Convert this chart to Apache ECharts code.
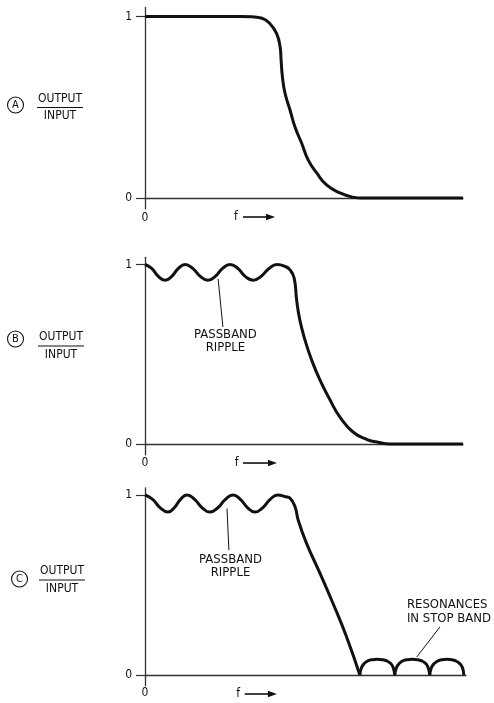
<!DOCTYPE html>
<html><head><meta charset="utf-8">
<script src="https://cdn.jsdelivr.net/npm/echarts@6/dist/echarts.min.js"></script>
<style>html,body{margin:0;padding:0;background:#fff}#c{width:494px;height:703px}</style>
</head><body><div id="c"></div>
<script>
// ---- Panel A : smooth low-pass response ----
const aX = [0, 1.73, 2.99, 3.36, 3.68, 3.93, 4.14, 4.25, 4.28, 4.32, 4.40, 4.56, 4.72, 4.93, 5.13, 5.40, 5.71, 6.13, 6.54, 6.82, 10];
const aY = [1, 1, 1, 0.998, 0.99, 0.96, 0.906, 0.83, 0.76, 0.67, 0.58, 0.485, 0.39, 0.30, 0.21, 0.138, 0.072, 0.028, 0.005, 0, 0];
// ---- Panel B : passband ripple ----
const bX = [0, 0.21, 0.42, 0.63, 0.84, 1.05, 1.26, 1.50, 1.74, 1.98, 2.21, 2.44, 2.67, 2.92, 3.15, 3.40, 3.65, 3.90, 4.15,
            4.40, 4.56, 4.69, 4.77, 4.87, 5.03, 5.24, 5.50, 5.82, 6.13, 6.54, 6.98, 7.30, 7.70, 10];
const bY = [1, 0.978, 0.934, 0.912, 0.934, 0.978, 1, 0.978, 0.934, 0.912, 0.934, 0.978, 1, 0.978, 0.934, 0.912, 0.934, 0.978, 1,
            0.99, 0.97, 0.925, 0.80, 0.69, 0.58, 0.468, 0.357, 0.245, 0.15, 0.067, 0.025, 0.011, 0, 0];
// ---- Panel C : ripple + stop-band resonances ----
const cX = [0, 0.24, 0.48, 0.72, 0.92, 1.12, 1.32, 1.56, 1.80, 2.04, 2.29, 2.53, 2.77, 3.00, 3.23, 3.46, 3.70, 3.94, 4.18,
            4.43, 4.56, 4.72, 4.82, 5.08, 5.50, 5.91, 6.34, 6.76];
const cY = [1, 0.976, 0.929, 0.905, 0.929, 0.976, 1, 0.976, 0.929, 0.905, 0.929, 0.976, 1, 0.976, 0.929, 0.905, 0.929, 0.976, 1,
            0.99, 0.983, 0.935, 0.861, 0.733, 0.567, 0.40, 0.213, 0];
const arc1X = [6.76, 6.81, 6.89, 7.01, 7.15, 7.31, 7.47, 7.61, 7.74, 7.81, 7.86];
const arc2X = [7.86, 7.91, 7.99, 8.11, 8.25, 8.41, 8.57, 8.71, 8.84, 8.91, 8.96];
const arc3X = [8.96, 9.01, 9.09, 9.21, 9.34, 9.50, 9.65, 9.78, 9.91, 9.99, 10.03];
const arcY  = [0, 0.04, 0.062, 0.078, 0.085, 0.087, 0.085, 0.078, 0.062, 0.04, 0];

const yTickValues = [0, 1];
const yTickLabels = ['0', '1'];
const xTickValues = [0];
const xTickLabels = ['0'];
const panelLetters = ['A', 'B', 'C'];

const FONT = "'DejaVu Sans Condensed', 'Liberation Sans Narrow', 'DejaVu Sans', sans-serif";
const INK = '#111';
const AX = '#333';

function zip(xs, ys) { return xs.map((x, i) => [x, ys[i]]); }

const grids = [
  { left: 145, width: 318, top: 7.4, height: 201.5 },
  { left: 145, width: 318, top: 257.3, height: 197.5 },
  { left: 145, width: 321, top: 487.8, height: 198 }
];
const yRanges = [[-0.06, 1.05], [-0.06, 1.04], [-0.06, 1.04]];
const xMax = [10, 10, 10.1];
const xLabelMargin = [3, 2, 1];

const xAxes = grids.map((gr, i) => ({
  gridIndex: i, type: 'value', min: 0, max: xMax[i],
  axisLine: { show: true, onZero: true, lineStyle: { color: AX, width: 1.3 } },
  axisTick: { show: false },
  splitLine: { show: false },
  axisLabel: { customValues: xTickValues, formatter: v => xTickLabels[xTickValues.indexOf(v)] ?? '', margin: xLabelMargin[i], color: INK, fontSize: 12, fontFamily: FONT }
}));
const yAxes = grids.map((gr, i) => ({
  gridIndex: i, type: 'value', min: yRanges[i][0], max: yRanges[i][1],
  axisLine: { show: true, onZero: false, lineStyle: { color: AX, width: 1.3 } },
  axisTick: { show: true, customValues: yTickValues, length: 9, lineStyle: { color: AX, width: 1.2 } },
  splitLine: { show: false },
  axisLabel: { customValues: yTickValues, formatter: v => yTickLabels[yTickValues.indexOf(v)] ?? '', margin: 13, color: INK, fontSize: 12, fontFamily: FONT }
}));

function curve(data, gi) {
  return {
    type: 'line', xAxisIndex: gi, yAxisIndex: gi, data: data,
    showSymbol: false, smooth: 0.5,
    lineStyle: { color: INK, width: 3 }, clip: false, silent: true
  };
}

const chart = echarts.init(document.getElementById('c'), null, { renderer: 'canvas' });
chart.setOption({
  animation: false,
  backgroundColor: '#fff',
  grid: grids,
  xAxis: xAxes,
  yAxis: yAxes,
  series: [
    curve(zip(aX, aY), 0),
    curve(zip(bX, bY), 1),
    curve(zip(cX, cY), 2),
    curve(zip(arc1X, arcY), 2),
    curve(zip(arc2X, arcY), 2),
    curve(zip(arc3X, arcY), 2)
  ]
});

// ---- annotations (positions derived from data coordinates) ----
const P = (gi, x, y) => chart.convertToPixel({ gridIndex: gi }, [x, y]);
const g = [];
function txt(x, y, t, opt) {
  g.push({ type: 'text', x: x, y: y, silent: true, style: Object.assign({ text: t, fill: INK, font: '13px ' + FONT, align: 'center', verticalAlign: 'middle' }, opt || {}) });
}
function ln(p1, p2, w) {
  g.push({ type: 'line', silent: true, shape: { x1: p1[0], y1: p1[1], x2: p2[0], y2: p2[1] }, style: { stroke: INK, lineWidth: w || 1 } });
}
// f --> arrows
const fPos = [[2.86, 3.08, 4.09], [2.88, 3.08, 4.15], [2.93, 3.14, 4.15]];
fPos.forEach((f, gi) => {
  const pf = P(gi, f[0], 0), pa = P(gi, f[1], 0), pb = P(gi, f[2], 0);
  const yy = pf[1] + 19;
  txt(pf[0], yy, 'f', { font: '12px ' + FONT });
  ln([pa[0], yy], [pb[0] - 6, yy], 1.6);
  g.push({ type: 'polygon', silent: true, shape: { points: [[pb[0], yy], [pb[0] - 9, yy - 3.2], [pb[0] - 9, yy + 3.2]] }, style: { fill: INK } });
});
// left labels: circled letter + OUTPUT/INPUT
const leftLabels = [
  { cx: 15.5, cy: 105, tx: 60, ly: 107.5 },
  { cx: 15.5, cy: 339, tx: 61, ly: 346 },
  { cx: 19.5, cy: 579, tx: 62, ly: 580 }
];
leftLabels.forEach((L, i) => {
  g.push({ type: 'circle', silent: true, shape: { cx: L.cx, cy: L.cy, r: 8 }, style: { stroke: INK, fill: 'none', lineWidth: 1.1 } });
  txt(L.cx, L.cy + 0.5, panelLetters[i], { font: '11px ' + FONT });
  txt(L.tx, L.ly - 9, 'OUTPUT', { font: '12px ' + FONT });
  ln([L.tx - 23, L.ly], [L.tx + 23, L.ly], 1.1);
  txt(L.tx, L.ly + 8.5, 'INPUT', { font: '12px ' + FONT });
});
// PASSBAND RIPPLE labels
let p = P(1, 2.53, 0.607); txt(p[0], p[1], 'PASSBAND');
p = P(1, 2.53, 0.535); txt(p[0], p[1], 'RIPPLE');
ln(P(1, 2.30, 0.92), P(1, 2.45, 0.652), 1);
p = P(2, 2.69, 0.639); txt(p[0], p[1], 'PASSBAND');
p = P(2, 2.69, 0.567); txt(p[0], p[1], 'RIPPLE');
ln(P(2, 2.58, 0.925), P(2, 2.64, 0.694), 1);
// RESONANCES IN STOP BAND
p = P(2, 8.24, 0.389); txt(p[0], p[1], 'RESONANCES', { align: 'left' });
p = P(2, 8.24, 0.311); txt(p[0], p[1], 'IN STOP BAND', { align: 'left' });
ln(P(2, 9.28, 0.267), P(2, 8.55, 0.10), 1);

chart.setOption({ graphic: g });
</script>
</body></html>
